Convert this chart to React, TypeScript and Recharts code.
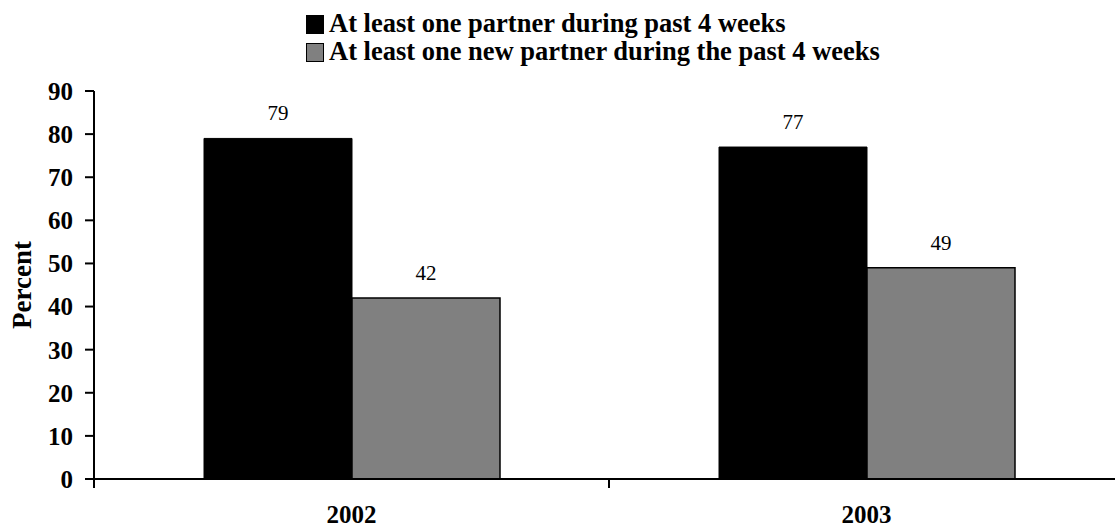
import { Bar, BarChart, LabelList, Legend, XAxis, YAxis } from "recharts";

const years = ["2002", "2003"];
const anyPartner = [79, 77];
const newPartner = [42, 49];
const yTicks = [0, 10, 20, 30, 40, 50, 60, 70, 80, 90];

const seriesNames = [
  "At least one partner during past 4 weeks",
  "At least one new partner during the past 4 weeks",
];

const FONT = "'Liberation Serif', 'Times New Roman', serif";

const data = years.map((year, i) => ({
  year,
  anyPartner: anyPartner[i],
  newPartner: newPartner[i],
}));

const legendItems = [
  { name: seriesNames[0], color: "#000000" },
  { name: seriesNames[1], color: "#808080" },
];

function ChartLegend() {
  return (
    <div style={{ height: 56, fontFamily: FONT, fontWeight: "bold", fontSize: 26.5, color: "#000" }}>
      {legendItems.map((item) => (
        <div key={item.name} style={{ display: "flex", alignItems: "center", height: 28, lineHeight: "28px" }}>
          <span
            style={{
              display: "inline-block",
              width: 16,
              height: 17,
              background: item.color,
              border: "1.5px solid #000",
              marginRight: 5,
              marginTop: 3,
            }}
          />
          <span style={{ whiteSpace: "nowrap" }}>{item.name}</span>
        </div>
      ))}
    </div>
  );
}

function YearTick(props: any) {
  const { x, y, payload, index, visibleTicksCount, width } = props;
  const half = payload?.offset || width / visibleTicksCount / 2;
  const isLast = index === visibleTicksCount - 1;
  return (
    <g>
      <line x1={x - half} y1={y} x2={x - half} y2={y + 9} stroke="#000" strokeWidth={2} />
      {isLast && <line x1={x + half} y1={y} x2={x + half} y2={y + 9} stroke="#000" strokeWidth={2} />}
      <text x={x} y={y + 44} textAnchor="middle" fill="#000" fontFamily={FONT} fontWeight="bold" fontSize={25}>
        {payload.value}
      </text>
    </g>
  );
}

function PercentLabel(props: any) {
  const { viewBox } = props;
  const cx = viewBox.x + 22;
  const cy = viewBox.y + viewBox.height / 2;
  return (
    <text
      x={cx}
      y={cy}
      transform={`rotate(-90 ${cx} ${cy})`}
      textAnchor="middle"
      dominantBaseline="central"
      fill="#000"
      fontFamily={FONT}
      fontWeight="bold"
      fontSize={27}
    >
      Percent
    </text>
  );
}

export default function App() {
  return (
    <div style={{ position: "fixed", left: 0, top: 0, width: 1115, height: 529, overflow: "hidden", background: "#fff" }}>
      <BarChart
        width={1126}
        height={529}
        data={data}
        margin={{ top: 35, right: 2, bottom: 0, left: 0 }}
        barCategoryGap={110}
        barGap={0}
      >
        <Legend
          verticalAlign="top"
          content={() => <ChartLegend />}
          wrapperStyle={{ top: 9, left: 306, width: "auto" }}
        />
        <XAxis
          dataKey="year"
          height={50}
          tickLine={false}
          tickSize={0}
          tickMargin={0}
          axisLine={{ stroke: "#000", strokeWidth: 2 }}
          tick={<YearTick />}
          interval={0}
        />
        <YAxis
          width={94}
          domain={[0, 90]}
          ticks={yTicks}
          interval={0}
          tickSize={9}
          tickMargin={12}
          axisLine={{ stroke: "#000", strokeWidth: 2 }}
          tickLine={{ stroke: "#000", strokeWidth: 2 }}
          tick={{ fill: "#000", fontSize: 25, fontWeight: "bold", fontFamily: FONT }}
          label={<PercentLabel />}
        />
        <Bar dataKey="anyPartner" name={seriesNames[0]} fill="#000000" stroke="#000" strokeWidth={1} isAnimationActive={false}>
          <LabelList dataKey="anyPartner" position="top" offset={18} fill="#000" fontFamily={FONT} fontSize={21} />
        </Bar>
        <Bar dataKey="newPartner" name={seriesNames[1]} fill="#808080" stroke="#000" strokeWidth={1.5} isAnimationActive={false}>
          <LabelList dataKey="newPartner" position="top" offset={18} fill="#000" fontFamily={FONT} fontSize={21} />
        </Bar>
      </BarChart>
    </div>
  );
}
